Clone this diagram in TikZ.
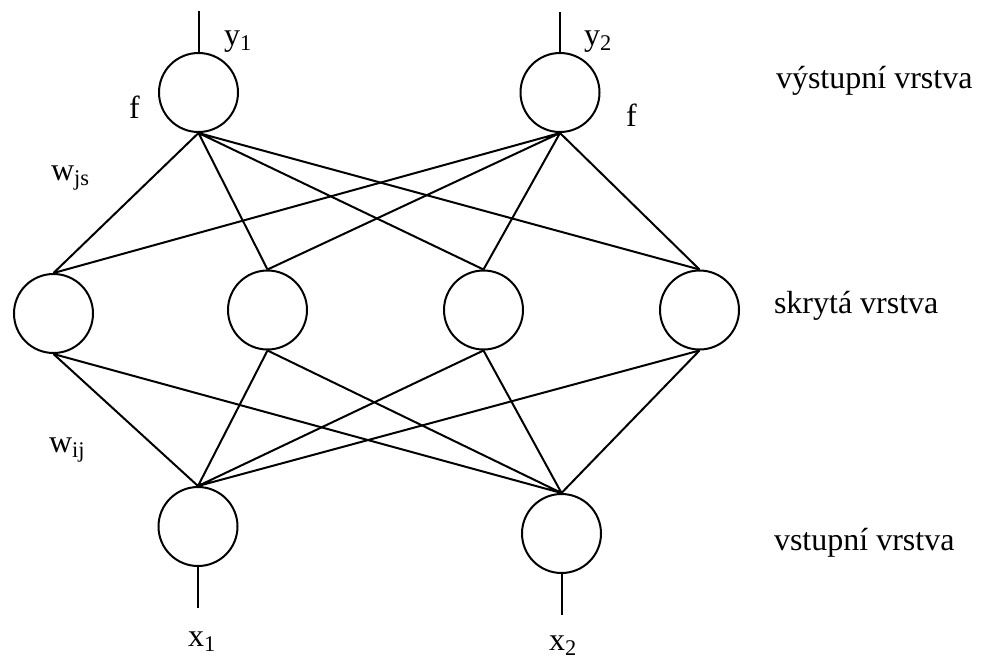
\documentclass[tikz,border=0pt]{standalone}
\usepackage{fontspec}
\setmainfont{Liberation Serif}
\begin{document}
\begin{tikzpicture}[x=0.5pt, y=-0.5pt, line width=1pt,
    neuron/.style={draw, circle, minimum size=39.5pt, inner sep=0pt},
    lbl/.style={anchor=base west, inner sep=0pt, font=\fontsize{16}{19}\selectfont}]
    \useasboundingbox (0,0) rectangle (984,659);

    % 1. Neurony vystupni vrstvy
    \node[neuron] (o1) at (198.5, 92.5) {};
    \node[neuron] (o2) at (560, 92.5) {};

    % 2. Neurony skryte vrstvy
    \node[neuron] (h1) at (53.5, 313.5) {};
    \node[neuron] (h2) at (267.5, 310) {};
    \node[neuron] (h3) at (483.5, 310) {};
    \node[neuron] (h4) at (699.5, 310) {};

    % 3. Neurony vstupni vrstvy
    \node[neuron] (i1) at (198, 526.5) {};
    \node[neuron] (i2) at (561.5, 533.5) {};

    % 4. Vahy w_js (skryta -> vystupni)
    \draw (o1.south) -- (h1.north) (o1.south) -- (h2.north)
          (o1.south) -- (h3.north) (o1.south) -- (h4.north);
    \draw (o2.south) -- (h1.north) (o2.south) -- (h2.north)
          (o2.south) -- (h3.north) (o2.south) -- (h4.north);

    % 5. Vahy w_ij (vstupni -> skryta)
    \draw (i1.north) -- (h1.south) (i1.north) -- (h2.south)
          (i1.north) -- (h3.south) (i1.north) -- (h4.south);
    \draw (i2.north) -- (h1.south) (i2.north) -- (h2.south)
          (i2.north) -- (h3.south) (i2.north) -- (h4.south);

    % 6. Vystupy a vstupy
    \coordinate (y1end) at (198.5, 11);
    \coordinate (y2end) at (560, 12);
    \coordinate (x1end) at (198, 608);
    \coordinate (x2end) at (561.5, 615);
    \draw (o1.north) -- (y1end);
    \draw (o2.north) -- (y2end);
    \draw (i1.south) -- (x1end);
    \draw (i2.south) -- (x2end);

    % 7. Popisky
    \node[lbl] (ly1) at (223, 45) {y\textsubscript{1}};
    \node[lbl] (ly2) at (583, 45) {y\textsubscript{2}};
    \node[lbl] (lf1) at (128, 118) {f};
    \node[lbl] (lf2) at (625, 126) {f};
    \node[lbl] (lwjs) at (50, 180) {w\textsubscript{js}};
    \node[lbl] (lwij) at (48, 452) {w\textsubscript{ij}};
    \node[lbl] (lx1) at (187, 646) {x\textsubscript{1}};
    \node[lbl] (lx2) at (548, 650) {x\textsubscript{2}};

    % 8. Nazvy vrstev
    \node[lbl] (lout) at (775, 88) {výstupní vrstva};
    \node[lbl] (lhid) at (773, 313) {skrytá vrstva};
    \node[lbl] (lin) at (773, 550) {vstupní vrstva};
\end{tikzpicture}
\end{document}
